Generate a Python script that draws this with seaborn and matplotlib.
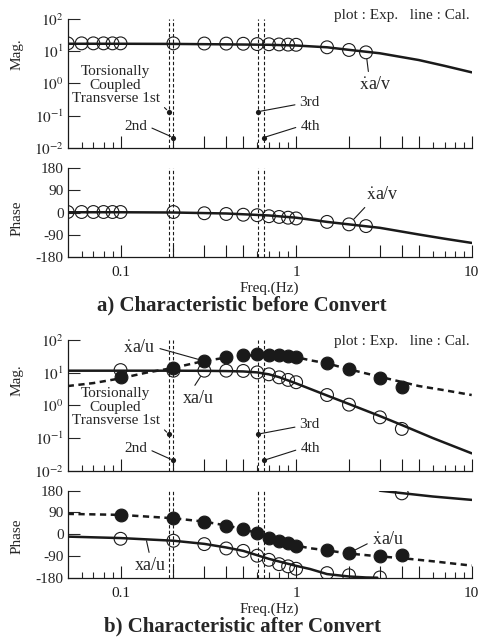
import numpy as np
import pandas as pd
import seaborn as sns
import matplotlib.pyplot as plt

# ---- data ----
# a) before convert : xdot_a / v
freq_a = [0.05, 0.06, 0.07, 0.08, 0.09, 0.1, 0.2, 0.3, 0.4, 0.5, 0.6, 0.7, 0.8, 0.9, 1.0, 1.5, 2.0, 2.5]
mag_a_exp = [17.5, 17.5, 17.5, 17.5, 17.5, 17.5, 17.5, 17.3, 17.2, 17.0, 16.6, 16.4, 16.2, 16.0, 15.8, 13.2, 10.9, 9.2]
phase_a_exp = [2, 2, 2, 2, 2, 2, 2, -3, -6, -9, -11, -15, -18, -21, -24, -38, -48, -55]

freq_a_cal = [0.05, 0.1, 0.2, 0.4, 0.7, 1.0, 1.5, 2.0, 3.0, 5.0, 7.0, 10.0]
mag_a_cal = [17.0, 17.0, 16.8, 16.3, 15.8, 15.0, 13.2, 11.0, 8.6, 5.3, 3.5, 2.2]
phase_a_cal = [1, 1, 0, -4, -12, -21, -38, -48, -62, -89, -106, -123]

# b) after convert : x_a / u (open) and xdot_a / u (filled)
freq_b = [0.1, 0.2, 0.3, 0.4, 0.5, 0.6, 0.7, 0.8, 0.9, 1.0, 1.5, 2.0, 3.0, 4.0]
mag_b_xu = [12.0, 11.5, 11.5, 11.5, 11.3, 10.2, 8.9, 7.2, 6.0, 5.1, 2.07, 1.05, 0.43, 0.19]
mag_b_vu = [7.5, 14.2, 22.7, 30.9, 35.0, 36.0, 35.5, 34.0, 32.4, 30.9, 19.3, 12.7, 7.0, 3.7]
phase_b_xu = [-19, -27, -41, -59, -69, -89, -106, -124, -133, -143, -161, -170, -179, 169]
phase_b_vu = [80, 66, 52, 36, 21, 4, -16, -30, -37, -47, -67, -78, -89, -88]

freq_b_cal_xu = [0.05, 0.1, 0.2, 0.3, 0.4, 0.5, 0.6, 0.7, 0.8, 1.0, 1.5, 2.0, 3.0, 4.0, 6.0, 10.0]
mag_b_cal_xu = [11.5, 11.5, 11.5, 11.4, 11.2, 10.9, 10.2, 8.9, 7.3, 4.7, 2.0, 1.1, 0.47, 0.25, 0.10, 0.034]
freq_b_cal_vu = [0.05, 0.07, 0.1, 0.14, 0.2, 0.26, 0.3, 0.4, 0.5, 0.6, 0.7, 0.8, 1.0, 1.2, 1.5, 2.0, 3.0, 5.0, 7.0, 10.0]
mag_b_cal_vu = [3.9, 4.8, 6.7, 10.0, 14.0, 19.3, 22.7, 29.0, 33.0, 34.5, 34.5, 33.5, 30.0, 24.0, 19.3, 12.7, 7.5, 3.9, 2.9, 2.07]

freq_b_ph_xu_1 = [0.05, 0.1, 0.2, 0.3, 0.4, 0.5, 0.6, 0.7, 0.8, 1.0, 1.2, 1.5, 2.0, 2.5, 2.9]
phase_b_cal_xu_1 = [-10, -16, -27, -40, -55, -69, -87, -102, -113, -131, -144, -165, -175, -179, -180]
freq_b_ph_xu_2 = [3.0, 4.0, 6.0, 10.0]
phase_b_cal_xu_2 = [180, 170, 156, 142]
freq_b_ph_vu = [0.05, 0.1, 0.2, 0.3, 0.4, 0.5, 0.6, 0.7, 0.8, 0.9, 1.0, 1.2, 1.5, 2.0, 3.0, 4.0, 6.0, 10.0]
phase_b_cal_vu = [84, 80, 66, 52, 36, 21, 4, -16, -30, -38, -47, -58, -67, -80, -92, -99, -112, -130]

# natural frequencies of the torsionally coupled transverse modes
mode_freq = [0.188, 0.2, 0.608, 0.652]
mode_mag = [0.132, 0.0206, 0.132, 0.0206]
mode_labels = ['Transverse 1st', '2nd', '3rd', '4th']

sns.set_theme(style='ticks')
plt.rcParams['font.family'] = ['Liberation Serif', 'DejaVu Serif']
plt.rcParams['mathtext.fontset'] = 'stix'
plt.rcParams['axes.unicode_minus'] = False

W, H = 484, 641
fig = plt.figure(figsize=(W / 100, H / 100), dpi=100)


def px_axes(left, top, right, bottom):
    return fig.add_axes([left / W, 1 - bottom / H, (right - left) / W, (bottom - top) / H])


LW = 1.8
DASH = (0, (2.5, 1.8))
VDASH = (0, (3, 2))


def style_x(ax, labels):
    ax.set_xscale('log')
    ax.set_xlim(0.05, 10)
    major = [0.1, 0.2, 0.3, 0.4, 0.5, 1, 2, 3, 4, 5, 10]
    ax.set_xticks(major)
    if labels:
        ax.set_xticklabels(['0.1' if m == 0.1 else '1' if m == 1 else '10' if m == 10 else '' for m in major])
    else:
        ax.set_xticklabels([])
    ax.set_xticks([0.06, 0.07, 0.08, 0.09, 0.6, 0.7, 0.8, 0.9, 6, 7, 8, 9], minor=True)
    ax.xaxis.set_minor_formatter(plt.NullFormatter())
    ax.tick_params(axis='x', which='major', direction='in', length=9, width=0.8, labelsize=11, pad=6.5, colors='k')
    ax.tick_params(axis='x', which='minor', direction='in', length=4.5, width=0.8)
    ax.tick_params(axis='y', which='major', direction='in', length=8.5, width=0.8, labelsize=11, pad=3)
    ax.tick_params(axis='y', which='minor', length=0)
    sns.despine(ax=ax)
    for s in ['left', 'bottom']:
        ax.spines[s].set_color('k')
        ax.spines[s].set_linewidth(0.9)
    ax.set_xlabel('')
    ax.set_ylabel('')
    for f in mode_freq:
        ax.axvline(f, color='k', lw=0.8, linestyle=VDASH, zorder=1)


def style_mag(ax):
    ax.set_yscale('log')
    ax.set_ylim(0.01, 100)
    ax.set_yticks([0.01, 0.1, 1, 10, 100])
    ax.set_yticklabels([r'$10^{-2}$', r'$10^{-1}$', r'$10^{0}$', r'$10^{1}$', r'$10^{2}$'])
    style_x(ax, False)
    sns.scatterplot(x=mode_freq, y=mode_mag, ax=ax, color='k', s=14, edgecolor='k', linewidth=0, zorder=4)
    ax.text(0.118, 0.59, 'Torsionally', transform=ax.transAxes, ha='center', va='center', fontsize=11)
    ax.text(0.118, 0.48, 'Coupled', transform=ax.transAxes, ha='center', va='center', fontsize=11)
    pos = [(0.120, 0.384, (1.0, 0.1)), (0.169, 0.168, (1.0, 0.5)),
           (0.599, 0.350, (0.0, 0.4)), (0.600, 0.168, (0.0, 0.5))]
    for lab, f, m, (tx, ty, rp) in zip(mode_labels, mode_freq, mode_mag, pos):
        ax.annotate(lab, xy=(f, m), xytext=(tx, ty), textcoords='axes fraction',
                    ha='center', va='center', fontsize=11,
                    arrowprops=dict(arrowstyle='-', color='k', lw=0.8, relpos=rp, shrinkA=1, shrinkB=2))


def style_phase(ax):
    ax.set_ylim(-180, 180)
    ax.set_yticks([-180, -90, 0, 90, 180])
    ax.set_yticklabels(['-180', '-90', '0', '90', '180'])
    style_x(ax, True)


def line(ax, x, y, dashed=False):
    sns.lineplot(x=x, y=y, ax=ax, color='k', lw=LW, linestyle=DASH if dashed else '-',
                 estimator=None, sort=False, zorder=2)


def points(ax, x, y, filled):
    if filled:
        sns.scatterplot(x=x, y=y, ax=ax, color='k', s=85, edgecolor='k', linewidth=0.8, zorder=3)
    else:
        sns.scatterplot(x=x, y=y, ax=ax, color='k', facecolor='none', edgecolor='k', s=85,
                        linewidth=0.8, zorder=3)


XDOT = r'$\dot{\mathrm{x}}$a'

# ---------- a) magnitude ----------
ax1 = px_axes(67.7, 19, 471.7, 147.7)
line(ax1, freq_a_cal, mag_a_cal)
points(ax1, freq_a, mag_a_exp, False)
style_mag(ax1)
ax1.annotate(XDOT + '/v', xy=(2.5, 9.2), xytext=(0.762, 0.49), textcoords='axes fraction',
             ha='center', va='center', fontsize=13,
             arrowprops=dict(arrowstyle='-', color='k', lw=0.8, relpos=(0.3, 1.0), shrinkA=1, shrinkB=5))

# ---------- a) phase ----------
ax2 = px_axes(67.7, 168, 471.7, 257)
line(ax2, freq_a_cal, phase_a_cal)
points(ax2, freq_a, phase_a_exp, False)
style_phase(ax2)
ax2.annotate(XDOT + '/v', xy=(2.0, -48), xytext=(0.778, 0.70), textcoords='axes fraction',
             ha='center', va='center', fontsize=13,
             arrowprops=dict(arrowstyle='-', color='k', lw=0.8, relpos=(0.1, 0.0), shrinkA=1, shrinkB=5))

# ---------- b) magnitude ----------
ax3 = px_axes(67.7, 340, 471.7, 470.7)
line(ax3, freq_b_cal_xu, mag_b_cal_xu)
line(ax3, freq_b_cal_vu, mag_b_cal_vu, dashed=True)
points(ax3, freq_b, mag_b_xu, False)
points(ax3, freq_b, mag_b_vu, True)
style_mag(ax3)
ax3.annotate(XDOT + '/u', xy=(0.3, 22.7), xytext=(0.1765, 0.944), textcoords='axes fraction',
             ha='center', va='center', fontsize=13,
             arrowprops=dict(arrowstyle='-', color='k', lw=0.8, relpos=(1.0, 0.5), shrinkA=1, shrinkB=5))
ax3.annotate('xa/u', xy=(0.3, 11.5), xytext=(0.323, 0.554), textcoords='axes fraction',
             ha='center', va='center', fontsize=13,
             arrowprops=dict(arrowstyle='-', color='k', lw=0.8, relpos=(0.3, 1.0), shrinkA=1, shrinkB=5))

# ---------- b) phase ----------
ax4 = px_axes(67.7, 490.7, 471.7, 577.7)
line(ax4, freq_b_ph_xu_1, phase_b_cal_xu_1)
line(ax4, freq_b_ph_xu_2, phase_b_cal_xu_2)
line(ax4, freq_b_ph_vu, phase_b_cal_vu, dashed=True)
points(ax4, freq_b, phase_b_xu, False)
points(ax4, freq_b, phase_b_vu, True)
style_phase(ax4)
ax4.annotate('xa/u', xy=(0.14, -22), xytext=(0.204, 0.14), textcoords='axes fraction',
             ha='center', va='center', fontsize=13,
             arrowprops=dict(arrowstyle='-', color='k', lw=0.8, relpos=(0.5, 1.0), shrinkA=1, shrinkB=1))
ax4.annotate(XDOT + '/u', xy=(2.0, -78), xytext=(0.793, 0.435), textcoords='axes fraction',
             ha='center', va='center', fontsize=13,
             arrowprops=dict(arrowstyle='-', color='k', lw=0.8, relpos=(0.0, 0.4), shrinkA=1, shrinkB=5))

# ---------- figure texts ----------
for ytop in [16, 341.7]:
    fig.text(470 / W, 1 - ytop / H, 'plot : Exp.   line : Cal.', ha='right', va='center', fontsize=11)
for y, lab in [(54, 'Mag.'), (218, 'Phase'), (380, 'Mag.'), (536, 'Phase')]:
    fig.text(17.5 / W, 1 - y / H, lab, rotation=90, ha='center', va='center', fontsize=11)
for y in [288.5, 609]:
    fig.text(269.7 / W, 1 - y / H, 'Freq.(Hz)', ha='center', va='center', fontsize=11)
fig.text(242 / W, 1 - 305 / H, 'a) Characteristic before Convert', ha='center', va='center',
         fontsize=15, fontweight='bold')
fig.text(242 / W, 1 - 626 / H, 'b) Characteristic after Convert', ha='center', va='center',
         fontsize=15, fontweight='bold')

fig.savefig('out.png', dpi=100)
